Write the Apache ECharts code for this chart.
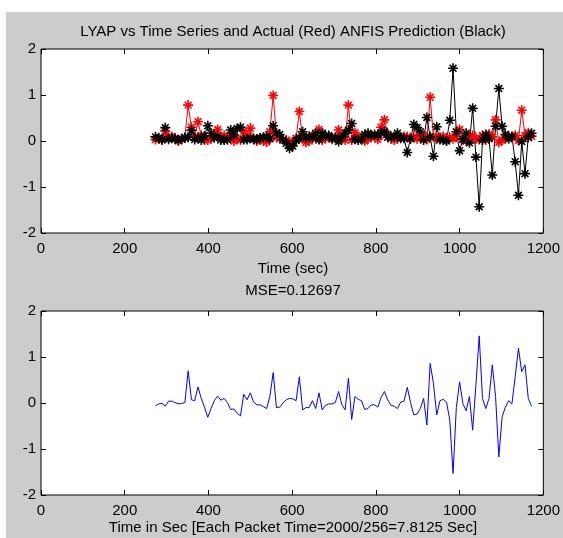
<!DOCTYPE html>
<html>
<head>
<meta charset="utf-8">
<script src="https://cdn.jsdelivr.net/npm/echarts@6/dist/echarts.min.js"></script>
<style>
html,body{margin:0;padding:0;background:#fff;}
#chart{width:563px;height:538px;}
</style>
</head>
<body>
<div id="chart"></div>
<script>
// Packet time in seconds and first packet index shown
const PACKET_TIME = 2000 / 256;
const FIRST_PACKET = 35;

const xTicks = [0, 200, 400, 600, 800, 1000, 1200];
const yTicks = [-2, -1, 0, 1, 2];

// Actual (red)
const actual = [
  0.03, 0.05, 0.02, 0.22, 0.08, 0.10, 0.06, 0.00, 0.04, 0.08,
  0.78, 0.30, 0.08, 0.42, 0.12, 0.02, 0.02, 0.05, 0.12, 0.25,
  0.08, 0.12, 0.04, 0.10, 0.00, 0.05, 0.02, 0.22, 0.10, 0.28,
  0.06, 0.00, 0.03, 0.00, -0.02, 0.20, 0.99, 0.08, 0.05, 0.03,
  0.02, -0.06, -0.02, 0.06, 0.64, 0.05, -0.03, 0.00, 0.12, 0.05,
  0.25, 0.02, 0.06, 0.10, 0.04, 0.08, 0.24, 0.05, 0.02, 0.78,
  0.02, 0.18, 0.10, 0.08, 0.00, 0.05, 0.08, 0.10, 0.04, 0.30,
  0.46, 0.15, 0.05, 0.02, 0.05, 0.08, 0.10, 0.09, 0.06, 0.10,
  0.05, 0.08, 0.12, 0.03, 0.95, 0.10, 0.05, 0.08, 0.10, 0.02,
  0.08, 0.05, 0.10, 0.25, 0.03, 0.00, 0.10, 0.12, 0.05, 0.03,
  0.12, 0.02, 0.15, 0.09, 0.46, -0.03, 0.02, 0.05, 0.10, 0.08,
  0.12, 0.01, 0.67, 0.12, 0.18, 0.10
];

// ANFIS prediction (black)
const predicted = [
  0.09, 0.07, 0.03, 0.29, 0.04, 0.06, 0.05, 0.02, 0.05, 0.07,
  0.08, 0.23, 0.03, 0.07, 0.02, 0.11, 0.33, 0.17, 0.07, 0.10,
  0.02, 0.02, 0.03, 0.24, 0.13, 0.27, 0.30, 0.03, 0.03, 0.06,
  0.04, 0.04, 0.07, 0.08, 0.10, 0.05, 0.33, 0.18, 0.14, 0.03,
  -0.05, -0.16, -0.11, 0.01, 0.07, 0.20, 0.07, 0.10, 0.07, 0.17,
  0.03, 0.17, 0.11, 0.12, 0.06, 0.07, -0.01, 0.09, 0.17, 0.24,
  0.38, 0.04, 0.02, 0.03, 0.14, 0.17, 0.12, 0.14, 0.13, 0.18,
  0.21, 0.08, 0.10, 0.09, 0.17, 0.06, 0.06, -0.25, 0.05, 0.36,
  0.29, 0.20, 0.02, 0.51, 0.09, -0.33, 0.31, 0.03, 0.02, 0.00,
  0.45, 1.58, 0.20, -0.21, 0.04, 0.17, -0.04, 0.71, -0.35, -1.43,
  0.02, 0.14, 0.05, -0.74, 0.32, 1.14, 0.32, 0.14, 0.05, 0.10,
  -0.45, -1.18, -0.01, -0.71, 0.08, 0.17
];

// Prediction error (blue)
const predError = [
  -0.06, -0.02, -0.01, -0.07, 0.04, 0.04, 0.01, -0.02, -0.01, 0.01,
  0.70, 0.07, 0.05, 0.35, 0.10, -0.09, -0.31, -0.12, 0.05, 0.15,
  0.06, 0.10, 0.01, -0.14, -0.13, -0.22, -0.28, 0.19, 0.07, 0.22,
  0.02, -0.04, -0.04, -0.08, -0.12, 0.15, 0.66, -0.10, -0.09, 0.00,
  0.07, 0.10, 0.09, 0.05, 0.57, -0.15, -0.10, -0.10, 0.05, -0.12,
  0.22, -0.15, -0.05, -0.02, -0.02, 0.01, 0.25, -0.04, -0.15, 0.54,
  -0.36, 0.14, 0.08, 0.05, -0.14, -0.12, -0.04, -0.04, -0.09, 0.12,
  0.25, 0.07, -0.05, -0.07, -0.12, 0.02, 0.04, 0.34, 0.01, -0.26,
  -0.24, -0.12, 0.10, -0.48, 0.86, 0.43, -0.26, 0.05, 0.08, 0.02,
  -0.37, -1.53, -0.10, 0.46, -0.01, -0.17, 0.14, -0.59, 0.40, 1.46,
  0.10, -0.12, 0.10, 0.83, 0.14, -1.17, -0.30, -0.09, 0.05, -0.02,
  0.57, 1.19, 0.68, 0.83, 0.10, -0.07
];

const times = actual.map((_, k) => (FIRST_PACKET + k) * PACKET_TIME);
const pairs = arr => arr.map((v, k) => [times[k], v]);

const FONT = '"Liberation Sans", Arial, sans-serif';
const FS = 15;
const star = 'path://M5,0L5,10M0,5L10,5M1.6,1.6L8.4,8.4M1.6,8.4L8.4,1.6';

const grids = [
  {left: 41, right: 18, top: 49, height: 184},
  {left: 41, right: 18, top: 311, height: 184}
];

function xAx(gi, pos, labels) {
  return {
    type: 'value', gridIndex: gi, position: pos,
    min: xTicks[0], max: xTicks[xTicks.length - 1], interval: xTicks[1] - xTicks[0],
    axisLine: {show: false, onZero: false},
    axisTick: {show: true, inside: true, length: 5, lineStyle: {color: '#000', width: 1}},
    axisLabel: {show: labels, color: '#000', fontFamily: FONT, fontSize: FS, margin: 8,
      formatter: v => String(v)},
    splitLine: {show: false}
  };
}
function yAx(gi, pos, labels) {
  return {
    type: 'value', gridIndex: gi, position: pos,
    min: yTicks[0], max: yTicks[yTicks.length - 1], interval: yTicks[1] - yTicks[0],
    axisLine: {show: false, onZero: false},
    axisTick: {show: true, inside: true, length: 5, lineStyle: {color: '#000', width: 1}},
    axisLabel: {show: labels, color: '#000', fontFamily: FONT, fontSize: FS, margin: 5,
      formatter: v => String(v)},
    splitLine: {show: false}
  };
}

function txt(x, y, s) {
  return {
    type: 'text', x: x, y: y, z: 10,
    style: {text: s, fill: '#000', font: FS + 'px ' + FONT,
      textAlign: 'center', align: 'center', textVerticalAlign: 'middle', verticalAlign: 'middle'}
  };
}

const chart = echarts.init(document.getElementById('chart'), null, {renderer: 'canvas'});
chart.setOption({
  backgroundColor: '#ffffff',
  animation: false,
  grid: grids.map(g => Object.assign({show: true, backgroundColor: '#ffffff', borderColor: '#000', borderWidth: 1}, g)),
  xAxis: [xAx(0, 'bottom', true), xAx(0, 'top', false), xAx(1, 'bottom', true), xAx(1, 'top', false)],
  yAxis: [yAx(0, 'left', true), yAx(0, 'right', false), yAx(1, 'left', true), yAx(1, 'right', false)],
  graphic: [
    {type: 'rect', shape: {x: 6, y: 12, width: 557, height: 526}, style: {fill: '#cccccc'}, z: -100, silent: true},
    txt(293, 32, 'LYAP vs Time Series and Actual (Red) ANFIS Prediction (Black)'),
    txt(293, 269, 'Time (sec)'),
    txt(293, 291, 'MSE=0.12697'),
    txt(293, 528, 'Time in Sec [Each Packet Time=2000/256=7.8125 Sec]')
  ],
  series: [
    {
      type: 'line', xAxisIndex: 0, yAxisIndex: 0, data: pairs(actual),
      symbol: star, symbolSize: 10, showAllSymbol: true,
      itemStyle: {color: 'rgba(0,0,0,0)', borderColor: '#ff0000', borderWidth: 1.6},
      lineStyle: {color: '#ff0000', width: 1}
    },
    {
      type: 'line', xAxisIndex: 0, yAxisIndex: 0, data: pairs(predicted),
      symbol: star, symbolSize: 10, showAllSymbol: true,
      itemStyle: {color: 'rgba(0,0,0,0)', borderColor: '#000000', borderWidth: 1.6},
      lineStyle: {color: '#000000', width: 1}
    },
    {
      type: 'line', xAxisIndex: 2, yAxisIndex: 2, data: pairs(predError),
      symbol: 'none',
      lineStyle: {color: '#0000ff', width: 1}
    }
  ]
});
</script>
</body>
</html>
